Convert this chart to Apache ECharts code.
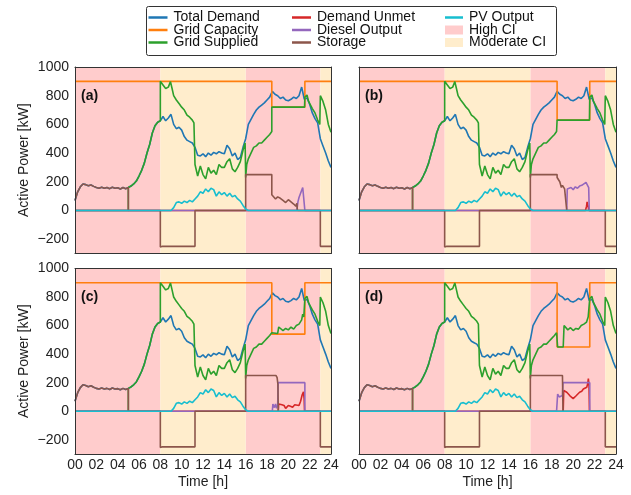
<!DOCTYPE html>
<html><head><meta charset="utf-8">
<script src="https://cdn.jsdelivr.net/npm/echarts@6/dist/echarts.min.js"></script>
<style>html,body{margin:0;padding:0;background:#fff}#c{width:631px;height:495px}</style>
</head><body><div id="c"></div>
<script>
// ---- data ----
const T = []; for (let i = 0; i <= 96; i++) T.push(i * 0.25);
const demand = [70,130,165,185, 180,172,178,168, 160,155,162,155, 160,152,162,155, 158,150,160,152,
  160,170,185,205, 240,280,330,400, 460,540,590,615, 625,655,625,645, 670,600,570,580,
  560,515,490,480, 470,440,385,380, 395,375,400,385, 405,395,410,400, 395,455,430,380,
  400,355,370,440, 500,600,635,670, 700,720,735,750, 770,790,830,810, 800,780,790,770,
  765,775,790,780, 800,860,775,785, 740,680,640,610, 500,450,400,345, 300];
const pv = [0,0,0,0, 0,0,0,0, 0,0,0,0, 0,0,0,0, 0,0,0,0, 0,0,0,0, 0,0,0,0, 0,0,0,0, 0,0,0,0,
  0,20,55,60, 50,65,55,70, 60,80,100,130, 120,150,130,155, 145,100,130,110, 125,100,120,95,
  105,80,65,35, 10,0,0,0, 0,0,0,0, 0,0,0,0, 0,0,0,0, 0,0,0,0, 0,0,0,0, 0,0,0,0, 0,0,0,0, 0];
const greenBase = [[0,0],[5,0],[5,160],[5.25,170],[5.5,185],[5.75,205],[6,240],[6.25,280],[6.5,330],[6.75,400],[7,460],[7.25,540],[7.5,590],[7.75,615],[8,625],[8,900],[8.25,875],[8.5,850],[8.75,860],[8.95,898],[9.1,850],[9.25,800],[9.5,770],[9.75,745],[10,720],[10.25,700],[10.5,665],[10.75,650],[11,630],[11.15,610],[11.25,620],[11.25,320],[11.5,240],[11.75,310],[12,250],[12.25,220],[12.5,300],[12.75,260],[13,280],[13.25,250],[13.5,320],[13.75,300],[14,300],[14.25,340],[14.5,360],[14.75,290],[15,270],[15.25,300],[15.5,340],[15.75,420],[15.95,470],[16,230],[16.1,320],[16.25,360],[16.5,400],[16.75,440],[17,450],[17.25,470],[17.5,470],[17.75,490],[18,510],[18.25,530],[18.45,550]];
const greenMidA = [[18.45,720],[21.52,720]];
const greenMidB = [[18.5,560],[18.5,630],[21.52,630]];
const greenMidC = [[18.45,545],[19,545],[19.1,590],[19.25,600],[19.5,565],[19.75,580],[20,570],[20.25,590],[20.5,575],[20.75,600],[21,610],[21.25,640],[21.35,680],[21.45,660],[21.52,665]];
const greenMidD = [[18.5,540],[18.55,450],[19.07,450],[19.15,600],[19.25,590],[19.5,570],[19.75,585],[20,565],[20.25,580],[20.5,575],[20.75,600],[21,610],[21.25,625],[21.4,660],[21.52,650]];
const greenEnd = [[21.55,790],[21.75,805],[21.9,760],[22,770],[22.25,710],[22.5,680],[22.75,630],[22.95,600],[23,800],[23.1,790],[23.25,760],[23.5,700],[23.75,600],[24,545]];
const capA = [[0,900],[18.45,900],[18.45,720],[21.55,720],[21.55,900],[24,900]];
const capB = [[0,900],[18.5,900],[18.5,630],[21.55,630],[21.55,900],[24,900]];
const capC = [[0,900],[18.45,900],[18.45,540],[21.55,540],[21.55,900],[24,900]];
const capD = [[0,900],[18.5,900],[18.5,450],[21.55,450],[21.55,900],[24,900]];
const storageBase = [[0,70],[0.25,130],[0.5,165],[0.75,185],[1,180],[1.25,172],[1.5,178],[1.75,168],[2,160],[2.25,155],[2.5,162],[2.75,155],[3,160],[3.25,152],[3.5,162],[3.75,155],[4,158],[4.25,150],[4.5,160],[4.75,152],[5,160],[5,0],[8,0],[8,-255],[8.1,-262],[8.2,-250],[11.25,-250],[11.25,0],[16,0],[16,250]];
const storageA = [[18.45,250],[18.45,110],[18.6,100],[18.8,80],[19,95],[19.25,85],[19.5,70],[19.75,55],[20,75],[20.25,60],[20.5,45],[20.7,30],[20.8,50],[20.85,0],[23,0],[23,-250],[24,-250]];
const storageB = [[18.5,250],[18.5,230],[18.75,200],[18.9,160],[19,175],[19.2,150],[19.35,160],[19.4,0],[23,0],[23,-250],[24,-250]];
const storageC = [[18.85,250],[18.95,235],[19.02,190],[19.06,0],[23,0],[23,-250],[24,-250]];
const storageD = [[19,250],[19.05,0],[23,0],[23,-250],[24,-250]];
const dieselA = [[0,0],[20.8,0],[20.9,60],[21,90],[21.1,100],[21.2,130],[21.35,160],[21.45,80],[21.55,0],[24,0]];
const dieselB = [[0,0],[19.4,0],[19.45,150],[19.6,140],[19.8,160],[20,145],[20.2,165],[20.4,155],[20.6,170],[20.8,175],[21,185],[21.2,195],[21.35,200],[21.45,160],[21.5,0],[24,0]];
const dieselC = [[0,0],[18.5,0],[18.55,50],[18.7,25],[18.8,50],[18.9,20],[19,40],[19.05,200],[21.55,200],[21.55,0],[24,0]];
const dieselD = [[0,0],[18.45,0],[18.55,120],[18.7,100],[18.85,90],[19,110],[19.05,200],[21.55,200],[21.55,0],[24,0]];
const unmetA = [[0,0],[24,0]];
const unmetB = [[0,0],[21.15,0],[21.25,30],[21.3,60],[21.35,40],[21.42,20],[21.46,0],[24,0]];
const unmetC = [[0,0],[19.05,0],[19.1,50],[19.25,60],[19.4,45],[19.6,40],[19.75,20],[19.85,15],[20,40],[20.2,35],[20.4,28],[20.6,45],[20.75,50],[21,40],[21.15,70],[21.3,115],[21.42,135],[21.48,90],[21.52,0],[24,0]];
const unmetD = [[0,0],[19.07,0],[19.12,145],[19.25,140],[19.4,133],[19.55,120],[19.7,108],[19.85,100],[20,88],[20.15,100],[20.3,110],[20.45,120],[20.6,133],[20.8,140],[20.95,155],[21.1,150],[21.27,168],[21.35,190],[21.42,228],[21.48,180],[21.52,0],[24,0]];
const highCI = [[0,8],[16,23]];
const modCI = [[8,16],[23,24]];
const panelLabels = ['(a)','(b)','(c)','(d)'];

// ---- build ----
const FONT = 'Liberation Sans, Arial, sans-serif';
const C = {demand:'#1f77b4', cap:'#ff7f0e', grid:'#2ca02c', unmet:'#d62728', diesel:'#9467bd', storage:'#8c564b', pv:'#17becf', high:'#ffcccc', mod:'#ffedcc'};
const panels = [
  {green: greenBase.concat(greenMidA, greenEnd), cap: capA, st: storageBase.concat(storageA), ds: dieselA, um: unmetA},
  {green: greenBase.concat(greenMidB, greenEnd), cap: capB, st: storageBase.concat(storageB), ds: dieselB, um: unmetB},
  {green: greenBase.concat(greenMidC, greenEnd), cap: capC, st: storageBase.concat(storageC), ds: dieselC, um: unmetC},
  {green: greenBase.concat(greenMidD, greenEnd), cap: capD, st: storageBase.concat(storageD), ds: dieselD, um: unmetD}
];
const grids = [
  {left:75, top:67, width:256, height:186.5},
  {left:359, top:67, width:257, height:186.5},
  {left:75, top:268.5, width:256, height:185.5},
  {left:359, top:268.5, width:257, height:185.5}
];
const xAxis = [], yAxis = [], series = [], graphic = [];
const frameLine = {show:true, onZero:false, lineStyle:{color:'#333', width:1}};
grids.forEach((g, i) => {
  const bottomRow = i >= 2, leftCol = i % 2 === 0;
  xAxis.push({type:'value', gridIndex:i, min:0, max:24, interval:2, z:10,
    axisLine: frameLine, axisTick:{show:false}, splitLine:{show:false},
    axisLabel:{show:bottomRow, margin:4, fontSize:14, color:'#222', fontFamily:FONT,
      formatter: v => (v < 10 ? '0' : '') + v},
    name: bottomRow ? 'Time [h]' : '', nameLocation:'middle', nameGap:21,
    nameTextStyle:{fontSize:14, color:'#222', fontFamily:FONT}});
  xAxis.push({type:'value', gridIndex:i, min:0, max:24, position:'top', z:10,
    axisLine: frameLine, axisTick:{show:false}, splitLine:{show:false}, axisLabel:{show:false}});
  yAxis.push({type:'value', gridIndex:i, min:-300, max:1000, interval:100, z:10,
    axisLine: frameLine, axisTick:{show:false}, splitLine:{show:false},
    axisLabel:{show:leftCol, margin:6, fontSize:14, color:'#222', fontFamily:FONT,
      formatter: v => (v % 200 === 0) ? (v < 0 ? '\u2212' + (-v) : String(v)) : ''},
    name: leftCol ? 'Active Power [kW]' : '', nameLocation:'middle', nameGap:44,
    nameTextStyle:{fontSize:14, color:'#222', fontFamily:FONT}});
  yAxis.push({type:'value', gridIndex:i, min:-300, max:1000, position:'right', z:10,
    axisLine: frameLine, axisTick:{show:false}, splitLine:{show:false}, axisLabel:{show:false}});
  const xi = i * 2, yi = i * 2;
  const p = panels[i];
  series.push({name:'High CI', type:'line', xAxisIndex:xi, yAxisIndex:yi, data:[], z:1,
    itemStyle:{color:C.high}, silent:true,
    markArea:{silent:true, itemStyle:{color:C.high, opacity:1}, data: highCI.map(r => [{xAxis:r[0]},{xAxis:r[1]}])}});
  series.push({name:'Moderate CI', type:'line', xAxisIndex:xi, yAxisIndex:yi, data:[], z:1,
    itemStyle:{color:C.mod}, silent:true,
    markArea:{silent:true, itemStyle:{color:C.mod, opacity:1}, data: modCI.map(r => [{xAxis:r[0]},{xAxis:r[1]}])}});
  const line = (name, color, data) => ({name, type:'line', xAxisIndex:xi, yAxisIndex:yi, data,
    showSymbol:false, symbol:'none', color, lineStyle:{color, width:1.6}, z:3, silent:true});
  series.push(line('Total Demand', C.demand, T.map((t, k) => [t, demand[k]])));
  series.push(line('Grid Capacity', C.cap, p.cap));
  series.push(line('Grid Supplied', C.grid, p.green));
  series.push(line('Demand Unmet', C.unmet, p.um));
  series.push(line('Diesel Output', C.diesel, p.ds));
  series.push(line('Storage', C.storage, p.st));
  series.push(line('PV Output', C.pv, T.map((t, k) => [t, pv[k]])));
  graphic.push({type:'text', left: g.left + 6, top: g.top + 22, z:20,
    style:{text: panelLabels[i], font:'bold 14px ' + FONT, fill:'#111'}});
});
graphic.push({type:'rect', left:144, top:4, z:20, shape:{width:410, height:49, r:2},
  style:{fill:'none', stroke:'#333', lineWidth:1}});

const legBase = {orient:'vertical', itemGap:-1.5, itemWidth:19, itemHeight:2.5, icon:'rect', selectedMode:false,
  textStyle:{fontSize:14, lineHeight:12, color:'#111', fontFamily:FONT, padding:[0,0,0,1]}, padding:0};
const legend = [
  Object.assign({}, legBase, {left:148.5, top:10.5, data:['Total Demand','Grid Capacity','Grid Supplied']}),
  Object.assign({}, legBase, {left:292, top:10.5, data:['Demand Unmet','Diesel Output','Storage']}),
  Object.assign({}, legBase, {left:445, top:10.5, itemWidth:18, data:['PV Output']}),
  Object.assign({}, legBase, {left:445, top:23, itemWidth:18, itemHeight:9, data:['High CI','Moderate CI']})
];

const chart = echarts.init(document.getElementById('c'), null, {renderer:'canvas'});
chart.setOption({animation:false, backgroundColor:'#fff', grid:grids, xAxis, yAxis, series, legend, graphic});
</script></body></html>
